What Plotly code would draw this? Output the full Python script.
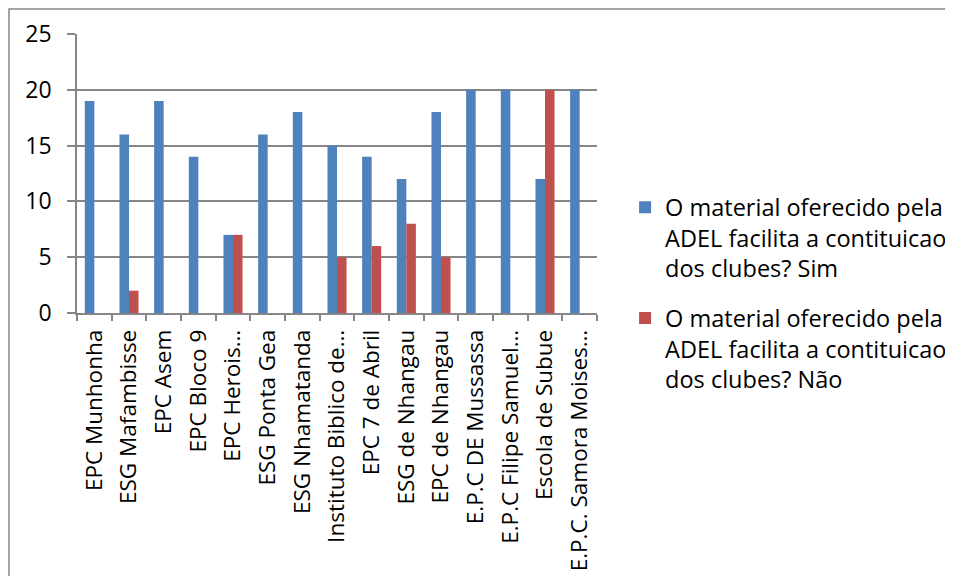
import plotly.graph_objects as go

categories = ["EPC Munhonha", "ESG Mafambisse", "EPC Asem", "EPC Bloco 9", "EPC Herois…",
              "ESG Ponta Gea", "ESG Nhamatanda", "Instituto Biblico de…", "EPC 7 de Abril",
              "ESG de Nhangau", "EPC de Nhangau", "E.P.C DE Mussassa", "E.P.C Filipe Samuel…",
              "Escola de Subue", "E.P.C. Samora Moises…"]
sim = [19, 16, 19, 14, 7, 16, 18, 15, 14, 12, 18, 20, 20, 12, 20]
nao = [0, 2, 0, 0, 7, 0, 0, 5, 6, 8, 5, 0, 0, 20, 0]
series_names = ["O material oferecido pela<br>ADEL facilita a contituicao<br>dos clubes? Sim",
                "O material oferecido pela<br>ADEL facilita a contituicao<br>dos clubes? Não"]
y_ticks = [0, 5, 10, 15, 20, 25]

FONT = "Open Sans"
W, H = 945, 568
L, T, PW, PH = 69, 26, 520, 279

fig = go.Figure()
fig.add_bar(x=categories, y=sim, name=series_names[0], legendgroup="sim",
            marker=dict(color="#4F81BD", line=dict(width=0)))
fig.add_bar(x=categories, y=nao, name=series_names[1], legendgroup="nao",
            marker=dict(color="#C0504D", line=dict(width=0)))

fig.update_layout(
    width=W, height=H,
    margin=dict(l=L, r=W - L - PW, t=T, b=H - T - PH, autoexpand=False),
    paper_bgcolor="white", plot_bgcolor="white",
    barmode="group", bargap=0.45, bargroupgap=0,
    font=dict(family=FONT, size=23, color="black"),
    legend=dict(x=1.054, y=0.07, yanchor="middle", xanchor="left",
                font=dict(family=FONT, size=23.5, color="black"),
                traceorder="grouped", tracegroupgap=16, valign="top"),
    showlegend=True,
)
fig.update_xaxes(type="category", tickangle=-90, ticks="outside", tickson="boundaries",
                 ticklen=6, tickcolor="#868686", tickwidth=1.5, showline=True,
                 linecolor="#868686", linewidth=1.5, showgrid=False,
                 tickfont=dict(family=FONT, size=22.5, color="black"), ticklabelstandoff=6,
                 automargin=False)
fig.update_yaxes(range=[0, 25], tickvals=y_ticks, ticks="outside", ticklen=8, tickwidth=1.5,
                 tickcolor="#868686", showline=True, linecolor="#868686", linewidth=1.5,
                 showgrid=True, gridcolor="#868686", gridwidth=1.5, zeroline=False,
                 tickfont=dict(family=FONT, size=23, color="black"), ticklabelstandoff=11,
                 automargin=False)
# outer chart frame (starts at the figure's top-left corner)
fig.add_shape(type="rect", xref="paper", yref="paper",
              x0=-(L - 1) / PW, y0=-2.0, x1=3.0, y1=1 + (T - 1) / PH,
              line=dict(color="#868686", width=1.5), fillcolor="rgba(0,0,0,0)", layer="below")
fig.write_html("out.html")
